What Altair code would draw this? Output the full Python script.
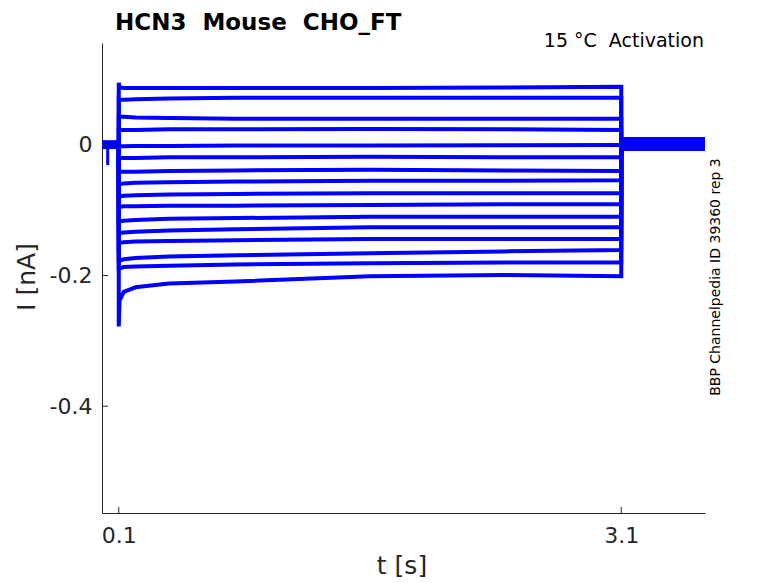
import altair as alt
import pandas as pd

# ---- data ----
T_PRE = [0.0, 0.1]
V_PRE = [0.0, 0.0]
SPIKE_T = [0.034]
SPIKE_MIN = [-0.031]
T_POST = [3.1, 3.6]
V_POST = [0.0015, 0.0015]

T_STEP = [0.1, 0.105, 0.13, 0.2, 0.4, 0.8, 1.6, 2.4, 3.1]
TRACES = [
    [0.095, 0.088, 0.087, 0.087, 0.087, 0.087, 0.087, 0.088, 0.089],
    [0.070, 0.069, 0.069, 0.070, 0.071, 0.072, 0.072, 0.072, 0.072],
    [0.043, 0.043, 0.043, 0.042, 0.041, 0.040, 0.040, 0.040, 0.040],
    [0.023, 0.023, 0.023, 0.023, 0.024, 0.024, 0.0245, 0.024, 0.023],
    [-0.002, -0.002, -0.002, -0.0015, -0.0015, -0.001, -0.001, -0.0005, 0.0],
    [-0.021, -0.020, -0.020, -0.020, -0.019, -0.019, -0.018, -0.019, -0.019],
    [-0.042, -0.041, -0.041, -0.041, -0.040, -0.039, -0.038, -0.039, -0.040],
    [-0.062, -0.060, -0.059, -0.058, -0.057, -0.056, -0.055, -0.055, -0.054],
    [-0.080, -0.079, -0.078, -0.077, -0.076, -0.075, -0.074, -0.074, -0.074],
    [-0.096, -0.095, -0.094, -0.094, -0.093, -0.093, -0.092, -0.091, -0.091],
    [-0.119, -0.117, -0.116, -0.115, -0.113, -0.112, -0.110, -0.110, -0.110],
    [-0.137, -0.135, -0.134, -0.133, -0.131, -0.129, -0.126, -0.126, -0.126],
    [-0.152, -0.150, -0.149, -0.148, -0.147, -0.146, -0.144, -0.144, -0.144],
    [-0.180, -0.177, -0.175, -0.173, -0.171, -0.169, -0.166, -0.163, -0.161],
    [-0.192, -0.189, -0.187, -0.186, -0.185, -0.183, -0.181, -0.180, -0.180],
    [-0.278, -0.238, -0.225, -0.218, -0.212, -0.209, -0.201, -0.199, -0.201],
]
X_TICKS = [0.1, 3.1]
Y_TICKS = [-0.4, -0.2, 0.0]

TITLE = "HCN3  Mouse  CHO_FT"
SUBTITLE = "15 °C  Activation"
SIDE = "BBP Channelpedia ID 39360 rep 3"
X_TITLE = "t [s]"
Y_TITLE = "I [nA]"

# ---- build tables ----
step_rows, pre_rows, post_rows = [], [], []
for i, vals in enumerate(TRACES):
    k = 0
    step_rows.append({"trace": i, "o": k, "t": T_STEP[0], "v": V_PRE[-1]}); k += 1
    for t, v in zip(T_STEP, vals):
        step_rows.append({"trace": i, "o": k, "t": t, "v": v}); k += 1
    step_rows.append({"trace": i, "o": k, "t": T_STEP[-1], "v": V_POST[0]})
    for j, (t, v) in enumerate(zip(T_PRE, V_PRE)):
        pre_rows.append({"trace": i, "o": j, "t": t, "v": v})
    for j, (t, v) in enumerate(zip(T_POST, V_POST)):
        post_rows.append({"trace": i, "o": j, "t": t, "v": v})

step_df = pd.DataFrame(step_rows)
pre_df = pd.DataFrame(pre_rows)
post_df = pd.DataFrame(post_rows)
spike_df = pd.DataFrame({"t": SPIKE_T, "v0": [0.0], "v1": SPIKE_MIN})
xt_df = pd.DataFrame({"t": X_TICKS})
yt_df = pd.DataFrame({"v": Y_TICKS})

W, H = 603, 470
FONT = "DejaVu Sans"
BLUE = "#0000ff"
AX = "#262626"

xs = alt.Scale(domain=[0, 3.6], nice=False, zero=False)
ys = alt.Scale(domain=[-0.5635, 0.156], nice=False, zero=False)

x_axis = alt.Axis(values=X_TICKS, title=None, ticks=False, tickSize=0, grid=False,
                  labelFontSize=22, labelPadding=12, labelColor=AX,
                  domainColor=AX, labelFont=FONT, labelExpr="toString(datum.value)")
y_axis = alt.Axis(values=Y_TICKS, title=None, ticks=False, tickSize=0, grid=False,
                  labelFontSize=22, labelPadding=10, labelColor=AX,
                  domainColor=AX, labelFont=FONT,
                  labelExpr="datum.value == 0 ? '0\u00a0\u00a0\u00a0' : toString(datum.value)")

step = alt.Chart(step_df).mark_line(color=BLUE, strokeWidth=4, clip=True).encode(
    x=alt.X("t:Q", scale=xs, axis=x_axis),
    y=alt.Y("v:Q", scale=ys, axis=y_axis),
    detail="trace:N",
    order="o:Q",
)
pre = alt.Chart(pre_df).mark_line(color=BLUE, strokeWidth=8).encode(
    x=alt.X("t:Q", scale=xs), y=alt.Y("v:Q", scale=ys), detail="trace:N", order="o:Q")
post = alt.Chart(post_df).mark_line(color=BLUE, strokeWidth=13).encode(
    x=alt.X("t:Q", scale=xs), y=alt.Y("v:Q", scale=ys), detail="trace:N", order="o:Q")
spike = alt.Chart(spike_df).mark_rule(color=BLUE, strokeWidth=3).encode(
    x=alt.X("t:Q", scale=xs), y=alt.Y("v0:Q", scale=ys), y2="v1:Q")
xt = alt.Chart(xt_df).mark_rule(color=AX, strokeWidth=1).encode(
    x=alt.X("t:Q", scale=xs), y=alt.value(H), y2=alt.value(H - 6))
yt = alt.Chart(yt_df).mark_rule(color=AX, strokeWidth=1).encode(
    y=alt.Y("v:Q", scale=ys), x=alt.value(0), x2=alt.value(6))

def label(text, x, y, size, weight="normal", align="center", angle=0, color="black", baseline="alphabetic"):
    shown = text.replace(" ", "\u00a0")
    return alt.Chart(pd.DataFrame({"s": [shown]})).mark_text(
        font=FONT, fontSize=size, fontWeight=weight, align=align, angle=angle,
        color=color, baseline=baseline).encode(
        text="s:N", x=alt.value(x), y=alt.value(y))

title = label(TITLE, 13, -13, 23, weight="bold", align="left")
sub = label(SUBTITLE, 602, 4, 19, align="right")
side = label(SIDE, 614, 234, 14, angle=270, baseline="middle")
xtitle = label(X_TITLE, 300, 523, 25, color=AX, baseline="middle")
ytitle = label(Y_TITLE, -75, 234, 25, angle=270, color=AX, baseline="middle")

chart = alt.layer(step, pre, post, spike, xt, yt, title, sub, side, xtitle, ytitle).properties(
    width=W, height=H,
    autosize=alt.AutoSizeParams(type="none"),
    padding={"left": 94, "top": 35, "right": 60, "bottom": 74},
    background="white",
).configure_view(strokeWidth=0)

chart.save("out.html", embed_options={"renderer": "svg", "actions": False})
